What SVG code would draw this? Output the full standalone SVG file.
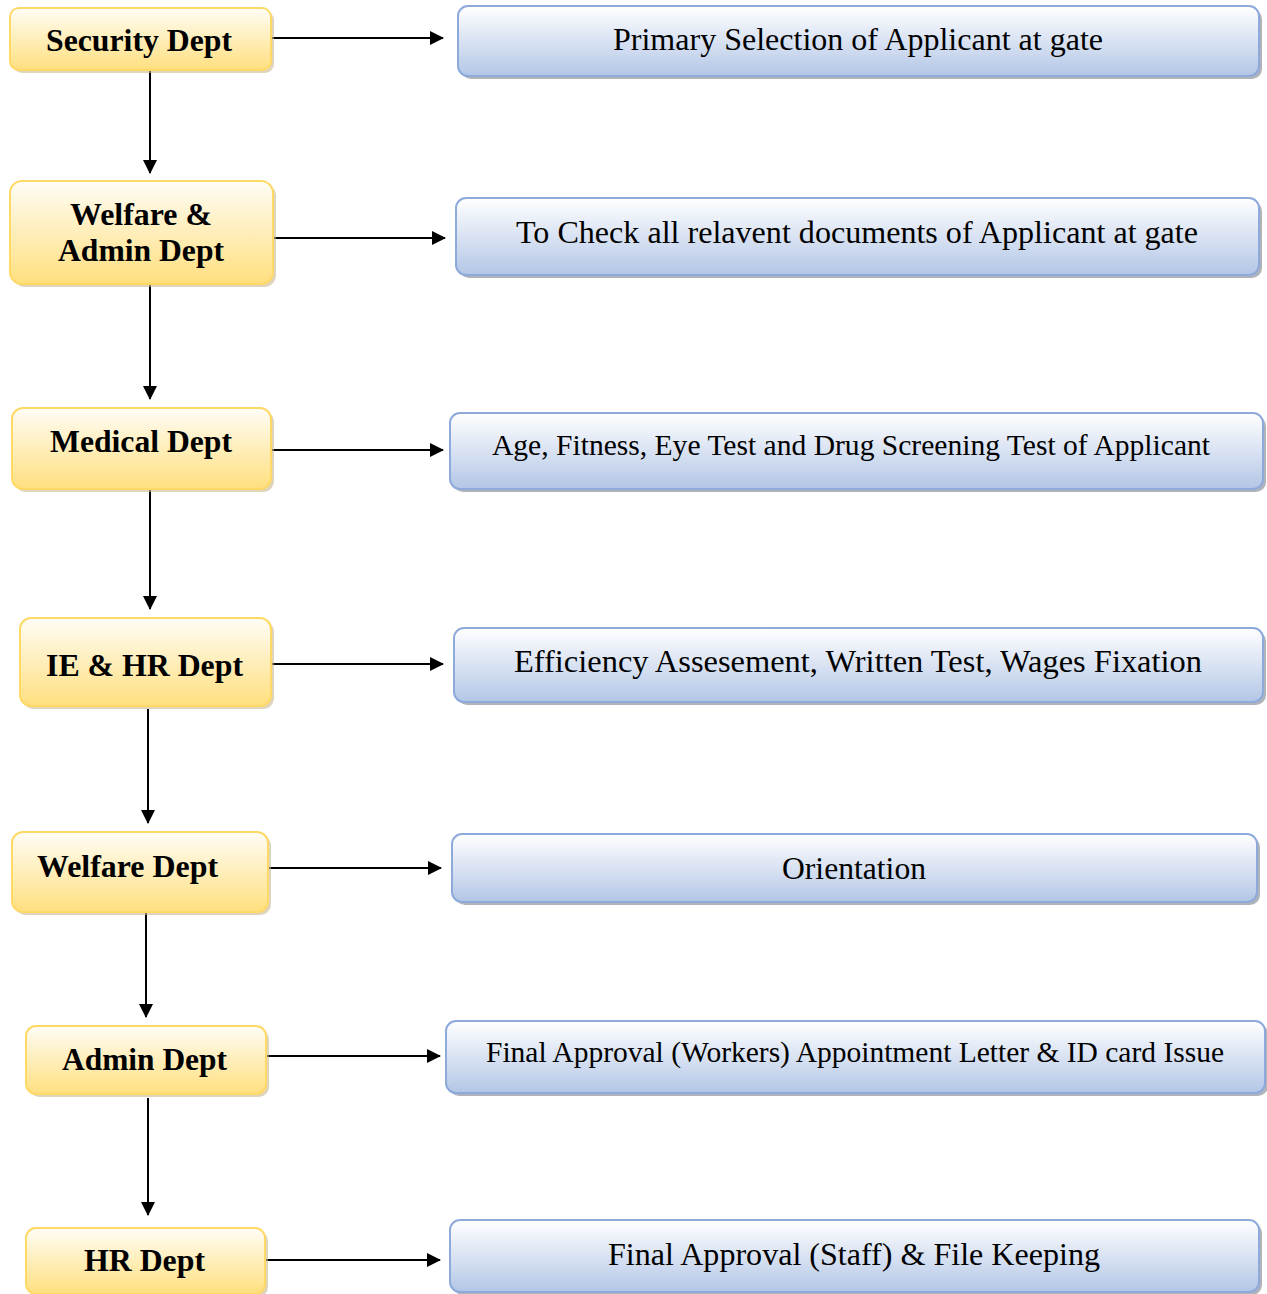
<svg xmlns="http://www.w3.org/2000/svg" width="1267" height="1294" viewBox="0 0 1267 1294">
<defs>
<linearGradient id="gy" x1="0" y1="0" x2="0" y2="1">
<stop offset="0" stop-color="#fffdf6"/>
<stop offset="1" stop-color="#ffdf7e"/>
</linearGradient>
<linearGradient id="gb" x1="0" y1="0" x2="0" y2="1">
<stop offset="0" stop-color="#ffffff"/>
<stop offset="1" stop-color="#b3c6e6"/>
</linearGradient>
<marker id="ah" markerWidth="14" markerHeight="14" refX="13" refY="7" orient="auto" markerUnits="userSpaceOnUse">
<path d="M0,0 L14,7 L0,14 Z" fill="#000"/>
</marker>
</defs>
<style>
.yb{fill:url(#gy);stroke:#ffd966;stroke-width:2}
.ys{fill:#c9b98f;opacity:0.6}
.bb{fill:url(#gb);stroke:#8eaadb;stroke-width:2}
.bs{fill:#8e949c;opacity:0.7}
.yt{font-family:"Liberation Serif","Times New Roman",serif;font-weight:bold;font-size:32px;fill:#000;text-anchor:middle}
.bt{font-family:"Liberation Serif","Times New Roman",serif;font-size:32px;fill:#000;text-anchor:middle;font-variant-ligatures:none}
.c{stroke:#000;stroke-width:2;fill:none;marker-end:url(#ah)}
</style>
<g id="connectors">
<line class="c" x1="272" y1="38" x2="443" y2="38"/>
<line class="c" x1="273" y1="238" x2="445" y2="238"/>
<line class="c" x1="271" y1="450" x2="443" y2="450"/>
<line class="c" x1="271" y1="664" x2="443" y2="664"/>
<line class="c" x1="268" y1="868" x2="441" y2="868"/>
<line class="c" x1="266" y1="1056" x2="440" y2="1056"/>
<line class="c" x1="265" y1="1260" x2="440" y2="1260"/>
<line class="c" x1="150" y1="70" x2="150" y2="173"/>
<line class="c" x1="150" y1="285" x2="150" y2="399"/>
<line class="c" x1="150" y1="489" x2="150" y2="609"/>
<line class="c" x1="148" y1="709" x2="148" y2="823"/>
<line class="c" x1="146" y1="912" x2="146" y2="1017"/>
<line class="c" x1="148" y1="1098" x2="148" y2="1215"/>
</g>
<g id="security">
<rect class="ys" x="13" y="11" width="261" height="62" rx="9"/>
<rect class="yb" x="10" y="8" width="261" height="62" rx="9"/>
<text class="yt" x="139" y="51" textLength="186" lengthAdjust="spacingAndGlyphs">Security Dept</text>
</g>
<g id="welfare-admin">
<rect class="ys" x="13" y="184" width="263" height="103" rx="12"/>
<rect class="yb" x="10" y="181" width="263" height="103" rx="12"/>
<text class="yt" x="141" y="225" textLength="142" lengthAdjust="spacingAndGlyphs">Welfare &amp;</text>
<text class="yt" x="141" y="261" textLength="166" lengthAdjust="spacingAndGlyphs">Admin Dept</text>
</g>
<g id="medical">
<rect class="ys" x="15" y="411" width="259" height="81" rx="11"/>
<rect class="yb" x="12" y="408" width="259" height="81" rx="11"/>
<text class="yt" x="141" y="452" textLength="182" lengthAdjust="spacingAndGlyphs">Medical Dept</text>
</g>
<g id="ie-hr">
<rect class="ys" x="23" y="621" width="251" height="88" rx="11"/>
<rect class="yb" x="20" y="618" width="251" height="88" rx="11"/>
<text class="yt" x="144.5" y="676" textLength="197" lengthAdjust="spacingAndGlyphs">IE &amp; HR Dept</text>
</g>
<g id="welfare">
<rect class="ys" x="15" y="835" width="256" height="80" rx="11"/>
<rect class="yb" x="12" y="832" width="256" height="80" rx="11"/>
<text class="yt" x="127.5" y="877" textLength="181" lengthAdjust="spacingAndGlyphs">Welfare Dept</text>
</g>
<g id="admin">
<rect class="ys" x="29" y="1029" width="240" height="68" rx="10"/>
<rect class="yb" x="26" y="1026" width="240" height="68" rx="10"/>
<text class="yt" x="144.5" y="1070" textLength="165" lengthAdjust="spacingAndGlyphs">Admin Dept</text>
</g>
<g id="hr">
<rect class="ys" x="29" y="1231" width="239" height="66" rx="10"/>
<rect class="yb" x="26" y="1228" width="239" height="66" rx="10"/>
<text class="yt" x="144.5" y="1271" textLength="121" lengthAdjust="spacingAndGlyphs">HR Dept</text>
</g>
<g id="primary">
<rect class="bs" x="461" y="9" width="801" height="70" rx="10"/>
<rect class="bb" x="458" y="6" width="801" height="70" rx="10"/>
<text class="bt" x="858" y="50" textLength="490" lengthAdjust="spacingAndGlyphs">Primary Selection of Applicant at gate</text>
</g>
<g id="documents">
<rect class="bs" x="459" y="201" width="803" height="77" rx="10"/>
<rect class="bb" x="456" y="198" width="803" height="77" rx="10"/>
<text class="bt" x="857" y="243" textLength="682" lengthAdjust="spacingAndGlyphs">To Check all relavent documents of Applicant at gate</text>
</g>
<g id="tests">
<rect class="bs" x="453" y="416" width="813" height="76" rx="10"/>
<rect class="bb" x="450" y="413" width="813" height="76" rx="10"/>
<text class="bt" x="851" y="455" style="font-size:30px" textLength="718" lengthAdjust="spacingAndGlyphs">Age, Fitness, Eye Test and Drug Screening Test of Applicant</text>
</g>
<g id="efficiency">
<rect class="bs" x="457" y="631" width="809" height="74" rx="10"/>
<rect class="bb" x="454" y="628" width="809" height="74" rx="10"/>
<text class="bt" font-family="Liberation Serif" x="858" y="672" textLength="688" lengthAdjust="spacingAndGlyphs">Efficiency Assesement, Written Test, Wages Fixation</text>
</g>
<g id="orientation">
<rect class="bs" x="455" y="837" width="805" height="68" rx="10"/>
<rect class="bb" x="452" y="834" width="805" height="68" rx="10"/>
<text class="bt" font-family="Liberation Serif" x="854" y="879" textLength="144" lengthAdjust="spacingAndGlyphs">Orientation</text>
</g>
<g id="final-workers">
<rect class="bs" x="449" y="1024" width="819" height="72" rx="10"/>
<rect class="bb" x="446" y="1021" width="819" height="72" rx="10"/>
<text class="bt" x="855" y="1062" style="font-size:30px" textLength="738" lengthAdjust="spacingAndGlyphs">Final Approval (Workers) Appointment Letter &amp; ID card Issue</text>
</g>
<g id="final-staff">
<rect class="bs" x="453" y="1223" width="809" height="72" rx="10"/>
<rect class="bb" x="450" y="1220" width="809" height="72" rx="10"/>
<text class="bt" x="854" y="1265" textLength="492" lengthAdjust="spacingAndGlyphs">Final Approval (Staff) &amp; File Keeping</text>
</g>
</svg>
